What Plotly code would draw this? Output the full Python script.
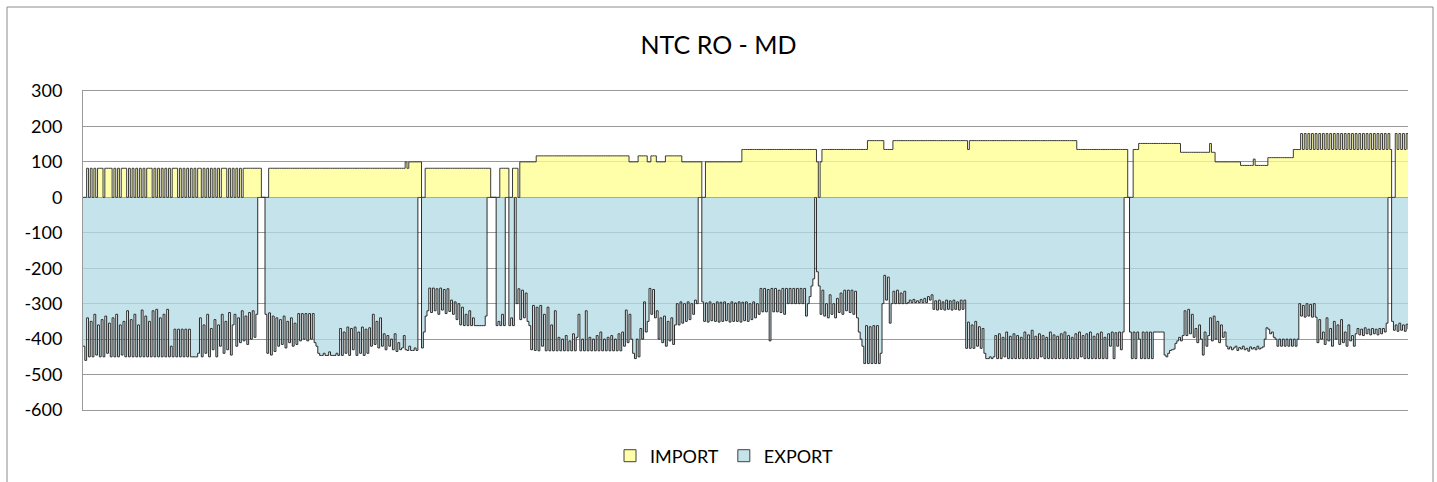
import plotly.graph_objects as go

# ---------------- data (half-day resolution) ----------------
# EXPORT (MW, negative) by segment
exp_s01 = [-420, -460,
           -340, -450, -350, -450, -330, -445, -360, -450, -345, -450, -335, -440,
           -355, -450, -340, -450, -330, -450, -360, -445, -350, -450,
           -320, -450, -345, -450, -330, -450, -360, -450, -318, -450, -335, -450,
           -350, -450, -320, -450, -316, -450, -340, -450, -330, -450, -316, -450,
           -420, -450,
           -372, -450, -372, -450, -372, -450, -372, -450, -372, -450, -450,
           -450, -450, -440,
           -340, -450, -360, -440, -330, -450, -370, -430, -345, -450, -360, -420,
           -330, -440, -350, -430, -325, -445, -360,
           -330, -420, -340, -410, -320, -405, -335, -415, -325, -400, -320, -395, -330]
exp_gap_a = [0, 0, 0, 0]
exp_s03 = [-330, -440, -326, -445, -335, -435, -340,
           -420, -345, -415, -335, -425, -350, -410, -340, -420, -355, -415,
           -328, -405, -328, -400, -328, -405, -328, -400, -328, -410,
           -420, -440,
           -446, -446, -440, -446, -446, -436, -446, -446, -446, -440, -446,
           -370, -446, -380, -440, -366, -446, -370, -430, -366, -446, -380, -440,
           -366, -446, -372, -440, -368,
           -420, -330, -415, -350, -425, -340, -420,
           -385, -430, -390, -420, -400, -430, -385, -435, -410, -430,
           -425, -390, -430, -432, -420, -432, -432, -425, -432]
exp_gap_b = [0, 0]
exp_s05 = [-425, -380, -335, -320,
           -256, -325, -256, -320, -258, -330, -256, -318, -260, -328, -258, -322, -290,
           -330, -295, -345, -300, -360, -310, -362, -330, -362, -320, -362, -340, -362,
           -362, -362, -362, -362, -362, -335]
exp_gap_c = [0, 0, 0, 0, 0]
exp_s07 = [-362, -350, -362, -330, -362]
exp_gap_d = [0, 0]
exp_s09 = [-362, -340, -362]
exp_gap_e = [0]
exp_s11 = [-300, -258, -345, -262, -340, -270, -350, -362,
           -430, -305, -432, -310, -433, -305, -420, -330, -433, -310, -433, -360,
           -433, -320, -433,
           -395, -433, -400, -433, -390, -433, -405, -433, -385, -433, -395, -330,
           -433, -400, -433, -320, -433, -395, -433, -400, -433, -390, -433, -380,
           -433, -400, -433, -395, -433, -390, -433, -400, -433, -385, -433,
           -380, -420,
           -318, -410, -330, -400,
           -440, -455, -400, -450,
           -370, -400, -295, -380, -350,
           -257, -330, -260, -340, -320,
           -400, -340, -410, -335, -420, -350, -405, -340, -415,
           -360, -300, -360, -295, -355, -300, -350, -295, -345, -300, -330, -290, -300]
exp_gap_f = [0, 0]
exp_s13 = [-295, -350, -298, -352, -295, -348, -300, -350, -295, -352, -296, -350,
           -295, -348, -300, -352, -295, -350, -298, -350, -295, -352, -296, -348,
           -295, -350, -300, -345, -295, -340, -300, -330,
           -257, -323, -257, -323, -260, -405, -257, -323, -257, -323, -262, -325,
           -257, -330,
           -257, -300, -257, -300, -257, -300, -257, -300, -257, -300, -257,
           -335, -300, -280, -250]
exp_s14 = [-230, 0, -210]
exp_s15 = [-250, -330, -262, -335, -300, -340, -275, -330, -300, -340, -285, -325,
           -270, -330, -262, -320, -262, -325, -262, -330, -265,
           -340, -380, -400, -420,
           -469, -362, -469, -365, -469, -362, -469, -362, -469, -440,
           -300, -220, -290, -225, -355,
           -300, -265, -300, -262, -300, -270, -300, -265, -300,
           -297, -290, -297, -288, -297, -292, -297, -288, -297, -285, -297, -280,
           -290, -275,
           -316, -292, -318, -290, -316, -295, -318, -290, -316, -292, -318, -290,
           -316, -295, -318, -290, -316, -290,
           -426, -352, -426, -360, -426, -350, -420, -365, -426, -370,
           -440, -455, -455, -450, -455, -450,
           -390, -455, -385, -455, -395, -450, -380, -455, -392, -455,
           -385, -455, -390, -455, -395, -455, -380, -455, -388, -455,
           -375, -455, -392, -455, -385, -450, -390, -455, -395, -455,
           -380, -455, -388, -455, -392, -455, -385, -455, -380, -455,
           -390, -455, -395, -455, -385, -455, -380, -450, -390, -455,
           -385, -455, -380, -455, -392, -455, -385, -455, -380, -455,
           -395, -455, -385, -420, -380, -455, -382, -420, -380, -430,
           -380]
exp_gap_g = [0, 0, 0]
exp_s17 = [-380, -455, -380, -455, -380, -400, -455, -380, -455, -380, -455, -380,
           -455, -380, -380, -380, -380, -380, -380,
           -445, -450, -440, -432, -430, -428, -412,
           -405, -395, -405, -390,
           -320, -390, -316, -385, -330, -395,
           -370, -410, -360, -400, -445, -380, -420, -390, -340, -405, -335, -400,
           -350, -410, -360, -395, -380,
           -420, -428, -422, -430, -425, -420, -432, -424, -428, -420, -430, -426,
           -434, -422, -428, -424, -430, -420, -428, -425, -422,
           -400, -368, -372, -385, -380, -395,
           -400, -420, -400, -420, -400, -420, -400, -420, -400, -420, -400, -420, -400,
           -300, -335, -305, -338, -300, -335, -302, -338, -300, -338,
           -410, -345, -400, -380, -415, -340, -405, -370, -420, -350, -400, -360,
           -415, -345, -410, -380, -420, -360, -405, -390, -420,
           -385, -370, -388, -372, -390, -368, -385, -372, -388, -370, -385, -372,
           -388, -370, -385, -370,
           -380, -355]
exp_gap_h = [0, 0]
exp_s19 = [-350, -375, -360, -378, -355, -375, -360, -378, -358, -372]

# IMPORT (MW, positive) by the same segments
imp_s01 = ([0, 0] + [82, 0, 82, 0, 82, 0] + [82, 82, 82] + [0] + [82] * 4
           + [0, 82, 0, 82, 0] + [82] * 3
           + [0, 82, 0, 82, 0, 82, 0, 82, 0, 82, 0] + [82] * 3
           + [0, 82, 0, 82, 0, 82, 0, 82, 0, 82, 0] + [82] * 3
           + [0, 82, 0, 82, 0, 82, 0, 82, 0, 82, 0] + [82, 82]
           + [0, 82, 0, 82, 0, 82, 0, 82, 0, 82, 0] + [82] * 3
           + [0, 82, 0, 82, 0, 82, 0, 82, 0] + [82] * 10)
imp_gap_a = [0, 0, 0, 0]
imp_s03 = [82] * 75 + [100, 82] + [100] * 7
imp_gap_b = [0, 0]
imp_s05 = [82] * 36
imp_gap_c = [0, 0, 0, 0, 0]
imp_s07 = [82] * 5
imp_gap_d = [0, 0]
imp_s09 = [82] * 3
imp_gap_e = [0]
imp_s11 = ([100] * 9 + [117] * 51 + [100] * 5 + [117] * 5 + [100] * 2
           + [117] * 3 + [100] * 5 + [117] * 9 + [100] * 11)
imp_gap_f = [0, 0]
imp_s13 = [100] * 20 + [135] * 41
imp_s14 = [100, 0, 100]
imp_s15 = [135] * 25 + [160] * 9 + [135] * 5 + [160] * 41 + [135] + [160] * 59 + [135] * 28
imp_gap_g = [0, 0, 0]
imp_s17 = ([135] * 3 + [152] * 23 + [127] * 16 + [152] + [127] * 2 + [100] * 14
           + [90] * 7 + [108] + [90] * 7 + [112] * 14 + [135] * 4
           + [180, 135] * 25)
imp_gap_h = [0, 0]
imp_s19 = [180, 135, 180, 135, 180, 135, 180, 135, 180, 135]

export_mw = (exp_s01 + exp_gap_a + exp_s03 + exp_gap_b + exp_s05 + exp_gap_c + exp_s07
             + exp_gap_d + exp_s09 + exp_gap_e + exp_s11 + exp_gap_f + exp_s13 + exp_s14
             + exp_s15 + exp_gap_g + exp_s17 + exp_gap_h + exp_s19)
import_mw = (imp_s01 + imp_gap_a + imp_s03 + imp_gap_b + imp_s05 + imp_gap_c + imp_s07
             + imp_gap_d + imp_s09 + imp_gap_e + imp_s11 + imp_gap_f + imp_s13 + imp_s14
             + imp_s15 + imp_gap_g + imp_s17 + imp_gap_h + imp_s19)

half_day = list(range(len(export_mw)))
y_ticks = [300, 200, 100, 0, -100, -200, -300, -400, -500, -600]
y_tick_text = ["300", "200", "100", "0", "-100", "-200", "-300", "-400", "-500", "-600"]

IMPORT_FILL = "rgba(255,255,140,0.75)"
EXPORT_FILL = "rgba(176,217,227,0.75)"
FONT = "Lato, 'Open Sans', sans-serif"

fig = go.Figure()
fig.add_trace(go.Scatter(x=half_day, y=export_mw, mode="lines", line_shape="hv",
                         fill="tozeroy", fillcolor=EXPORT_FILL,
                         line=dict(color="#2b2b2b", width=1), showlegend=False,
                         hoverinfo="skip"))
fig.add_trace(go.Scatter(x=list(range(len(import_mw))), y=import_mw, mode="lines",
                         line_shape="hv", fill="tozeroy", fillcolor=IMPORT_FILL,
                         line=dict(color="#3a3a3a", width=1), showlegend=False,
                         hoverinfo="skip"))
# legend entries (square markers)
fig.add_trace(go.Scatter(x=[None], y=[None], mode="markers", name="IMPORT",
                         marker=dict(symbol="square", size=12, color="#FFFFAA",
                                     line=dict(color="#404040", width=1))))
fig.add_trace(go.Scatter(x=[None], y=[None], mode="markers", name="EXPORT",
                         marker=dict(symbol="square", size=12, color="#C5E3EA",
                                     line=dict(color="#404040", width=1))))

n = len(export_mw)
fig.update_layout(
    width=1437, height=482,
    margin=dict(l=83, r=29, t=91, b=72, autoexpand=False),
    paper_bgcolor="white", plot_bgcolor="white",
    font=dict(family=FONT, size=18, color="#000000"),
    title=dict(text="NTC RO - MD", x=0.5, xref="container", xanchor="center",
               y=1 - 45 / 482, yref="container", yanchor="middle",
               font=dict(family=FONT, size=25, color="#000000")),
    xaxis=dict(range=[0, n - 1], showticklabels=False, showgrid=False,
               zeroline=False, showline=True, mirror=True, linecolor="#9a9a9a",
               linewidth=1, ticks=""),
    yaxis=dict(range=[-600, 300], tickvals=y_ticks, ticktext=y_tick_text,
               showgrid=True, gridcolor="#9a9a9a", gridwidth=1, zeroline=True,
               zerolinecolor="#555555", zerolinewidth=1,
               showline=True, linecolor="#9a9a9a", linewidth=1,
               ticks="", ticklabelstandoff=16,
               tickfont=dict(family=FONT, size=18, color="#000000")),
    legend=dict(orientation="h", x=(724 - 83) / 1325, xanchor="center",
                y=-(456 - 410) / 319, yanchor="middle",
                font=dict(family=FONT, size=18, color="#000000"),
                itemclick=False),
    shapes=[dict(type="rect", xref="paper", yref="paper",
                 x0=(7 - 83) / 1325, x1=(1433 - 83) / 1325,
                 y0=(410 - 495) / 319, y1=(410 - 7) / 319,
                 line=dict(color="#8c8c8c", width=1), fillcolor="rgba(0,0,0,0)",
                 layer="below")],
)

fig.write_html("out.html", config={"displayModeBar": False},
               post_script="document.body.style.margin='0px';"
                           "document.body.style.padding='0px';")
